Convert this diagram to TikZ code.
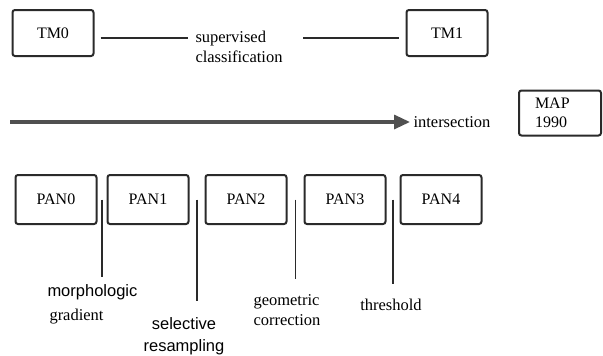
\documentclass[tikz,border=0pt]{standalone}
\usepackage{fontspec}
\setmainfont{Liberation Serif}
\setsansfont{Liberation Sans}
\usetikzlibrary{arrows.meta, calc}
\definecolor{cink}{HTML}{2A2A2A}
\definecolor{cgrey}{HTML}{505050}
\tikzset{
  every picture/.style={line width=1pt},
  box/.style={draw=cink, line width=2pt, rounded corners=2.5pt, minimum width=81pt, minimum height=48pt, inner sep=0pt, font=\fontsize{16}{19}\selectfont},
  link/.style={draw=cink, line width=1.1pt},
  flow/.style={-{Triangle[length=16pt, width=14pt]}, draw=cgrey, line width=3.2pt},
  note/.style={font=\fontsize{16.5}{20}\selectfont, text=black, align=left, inner sep=0pt},
  sansnote/.style={note, font=\sffamily\fontsize{16.5}{22}\selectfont},
}

\begin{document}
\begin{tikzpicture}[x=1pt, y=-1pt]
  \useasboundingbox (0,0) rectangle (603,356);
  % top row: the two TM scenes
  \node[box, minimum height=46pt] (tm0) at (53,33) {TM0};
  \node[box, minimum height=46pt] (tm1) at (447,33) {TM1};
  \node[note, anchor=west] (sup) at (195,47) {supervised\\classification};
  \draw[link] ([xshift=6pt, yshift=-5pt]tm0.east) -- ([xshift=-7pt, yshift=-5pt]tm0.east -| sup.west);
  \draw[link] ([xshift=-7pt, yshift=-5pt]tm1.west) -- ([xshift=-103pt, yshift=-5pt]tm1.west);
  % middle row
  \coordinate (start) at (10,122);
  \node[note, anchor=west, inner sep=3pt] (isect) at (410,122) {intersection};
  \draw[flow] (start) -- (isect.west);
  \node[box, align=left, text width=50pt, minimum width=82pt, minimum height=45pt] (map) at (560,113) {MAP\\1990};
  % bottom row: the PAN scenes and the steps between them
  \foreach \x [count=\i from 0] in {56,148,246,345,441}
    \node[box, minimum height=49pt] (pan\i) at (\x,199.5) {PAN\i};
  \node[sansnote, anchor=west] (morph) at (47,292) {morphologic};
  \node[note, anchor=west] (grad) at (49,317) {gradient};
  \node[sansnote, align=center] (resamp) at (184,336) {selective\\resampling};
  \node[note, anchor=west] (geo) at (253,310) {geometric\\correction};
  \node[note] (thresh) at (391,305) {threshold};
  \foreach \a/\b/\len in {0/1/77, 1/2/101, 2/3/79, 3/4/84} {
    \coordinate (cut\a) at ($(pan\a.east)!0.5!(pan\b.west)$);
    \draw[link] (cut\a) -- ++(0,\len);
  }
\end{tikzpicture}
\end{document}
